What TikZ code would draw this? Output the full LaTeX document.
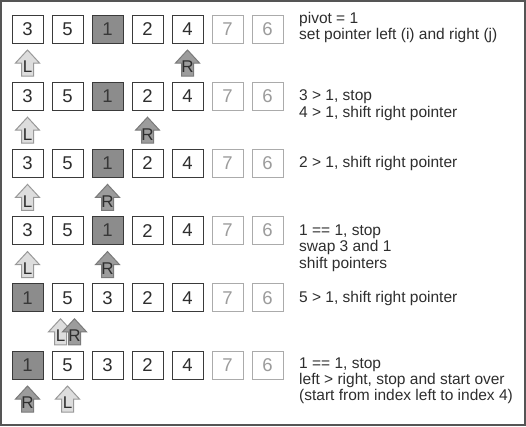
\documentclass[tikz,border=0pt]{standalone}
\usepackage{fontspec}
\setmainfont{Liberation Sans}
\definecolor{cellborder}{HTML}{3A3A3A}
\definecolor{celltext}{HTML}{2E2E2E}
\definecolor{pivfill}{HTML}{8C8C8C}
\definecolor{pivtext}{HTML}{383838}
\definecolor{faintborder}{HTML}{ABABAB}
\definecolor{fainttext}{HTML}{9C9C9C}
\definecolor{lfill}{HTML}{DDDDDD}
\definecolor{lborder}{HTML}{999999}
\definecolor{rfill}{HTML}{9C9C9C}
\definecolor{rborder}{HTML}{7A7A7A}
\definecolor{frame}{HTML}{555555}
\definecolor{txt}{HTML}{2E2E2E}
\tikzset{
  cellbase/.style={minimum width=31pt, minimum height=28pt, inner sep=0pt, line width=1pt,
    font=\fontsize{18.5}{18.5}\selectfont},
  cell/.style={cellbase, draw=cellborder, fill=white, text=celltext},
  pivot/.style={cellbase, draw=cellborder, fill=pivfill, text=pivtext},
  faint/.style={cellbase, draw=faintborder, fill=white, text=fainttext},
  lptr/.style={draw=lborder, fill=lfill, line width=1pt},
  rptr/.style={draw=rborder, fill=rfill, line width=1pt},
  ptrtext/.style={inner sep=0pt, text=txt, font=\fontsize{17}{17}\selectfont},
  desc/.style={anchor=base west, inner sep=0pt, text=txt, font=\fontsize{15.5}{16}\selectfont},
}
\newcommand\ptrshape[6]{% name, x, top y, letter, style, letter offset
  \draw[#5] (#2,#3) -- ++(12,13) -- ++(-6,0) -- ++(0,13) -- ++(-12,0) -- ++(0,-13) -- ++(-6,0) -- cycle;
  \node[ptrtext] (#1) at ({#2},{#3+#6}) {#4};
}
\begin{document}
\begin{tikzpicture}[x=1pt,y=-1pt]
\useasboundingbox (0,0) rectangle (526,426);
\fill[white] (0,0) rectangle (526,426);
\draw[frame, line width=2pt] (1,1) rectangle (525,425);
% rows 0-3
\foreach \r in {0,...,3}{
  \foreach \c/\v/\s in {0/3/cell,1/5/cell,2/1/pivot,3/2/cell,4/4/cell,5/7/faint,6/6/faint}
    \node[\s] (b\r\c) at ({27.5+40*\c},{29+67.2*\r}) {\v};
}
% rows 4-5
\foreach \r in {4,5}{
  \foreach \c/\v/\s in {0/1/pivot,1/5/cell,2/3/cell,3/2/cell,4/4/cell,5/7/faint,6/6/faint}
    \node[\s] (b\r\c) at ({27.5+40*\c},{29+67.2*\r}) {\v};
}
% pointers
\ptrshape{L0}{27.5}{50}{L}{lptr}{17}
\ptrshape{R0}{187.5}{50}{R}{rptr}{17}
\ptrshape{L1}{27.5}{117.2}{L}{lptr}{17}
\ptrshape{R1}{147.5}{117.2}{R}{rptr}{17}
\ptrshape{L2}{27.5}{184.4}{L}{lptr}{17}
\ptrshape{R2}{107.5}{184.4}{R}{rptr}{17}
\ptrshape{L3}{27.5}{251.6}{L}{lptr}{17}
\ptrshape{R3}{107.5}{251.6}{R}{rptr}{17}
\ptrshape{L4}{60.5}{318.8}{L}{lptr}{17}
\ptrshape{R4}{74.5}{318.8}{R}{rptr}{17}
\ptrshape{R5}{27.5}{386}{R}{rptr}{17}
\ptrshape{L5}{67.5}{386}{L}{lptr}{17}
% descriptions
\node[desc] (t0a) at (299,23.5) {pivot = 1};
\node[desc] (t0b) at (299,39.5) {set pointer left (i) and right (j)};
\node[desc] (t1a) at (299,100.5) {3 > 1, stop};
\node[desc] (t1b) at (299,117) {4 > 1, shift right pointer};
\node[desc] (t2a) at (299,167.5) {2 > 1, shift right pointer};
\node[desc] (t3a) at (299,235) {1 == 1, stop};
\node[desc] (t3b) at (299,251.5) {swap 3 and 1};
\node[desc] (t3c) at (299,268.5) {shift pointers};
\node[desc] (t4a) at (299,302.5) {5 > 1, shift right pointer};
\node[desc] (t5a) at (299,368.5) {1 == 1, stop};
\node[desc] (t5b) at (299,384.5) {left > right, stop and start over};
\node[desc] (t5c) at (299,400.5) {(start from index left to index 4)};
\end{tikzpicture}
\end{document}
